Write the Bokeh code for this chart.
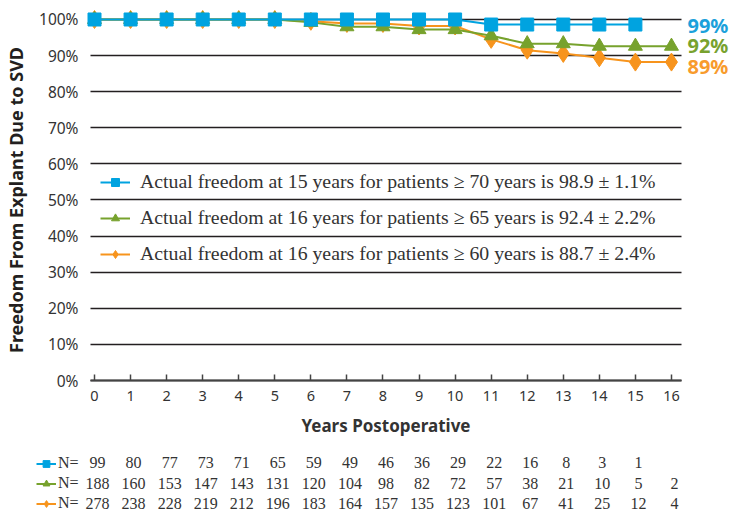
from bokeh.plotting import figure
from bokeh.models import (Range1d, FixedTicker, PrintfTickFormatter, Legend,
                          LegendItem, ColumnDataSource)
from bokeh.embed import file_html
from bokeh.resources import INLINE
from bokeh.core.properties import value

# ---------------- data ----------------
YEARS_70 = [0, 1, 2, 3, 4, 5, 6, 7, 8, 9, 10, 11, 12, 13, 14, 15]
FREEDOM_70 = [100, 100, 100, 100, 100, 100, 100, 100, 100, 100, 100,
              98.6, 98.6, 98.6, 98.6, 98.6]
YEARS_65 = [0, 1, 2, 3, 4, 5, 6, 7, 8, 9, 10, 11, 12, 13, 14, 15, 16]
FREEDOM_65 = [100, 100, 100, 100, 100, 100, 99.2, 98.0, 98.0, 97.2, 97.2,
              95.5, 93.3, 93.3, 92.6, 92.6, 92.6]
YEARS_60 = [0, 1, 2, 3, 4, 5, 6, 7, 8, 9, 10, 11, 12, 13, 14, 15, 16]
FREEDOM_60 = [100, 100, 100, 100, 100, 100, 99.5, 98.9, 98.9, 98.2, 98.2,
              94.5, 91.5, 90.6, 89.4, 88.2, 88.2]

N_70 = [99, 80, 77, 73, 71, 65, 59, 49, 46, 36, 29, 22, 16, 8, 3, 1]
N_65 = [188, 160, 153, 147, 143, 131, 120, 104, 98, 82, 72, 57, 38, 21, 10, 5, 2]
N_60 = [278, 238, 228, 219, 212, 196, 183, 164, 157, 135, 123, 101, 67, 41, 25, 12, 4]

LEGEND_LABELS = [
    "Actual freedom at 15 years for patients \u2265 70 years is 98.9 \u00b1 1.1%",
    "Actual freedom at 16 years for patients \u2265 65 years is 92.4 \u00b1 2.2%",
    "Actual freedom at 16 years for patients \u2265 60 years is 88.7 \u00b1 2.4%",
]
END_LABELS = ["99%", "92%", "89%"]
X_TICKS = [0, 1, 2, 3, 4, 5, 6, 7, 8, 9, 10, 11, 12, 13, 14, 15, 16]
Y_TICKS = [0, 10, 20, 30, 40, 50, 60, 70, 80, 90, 100]

BLUE = "#00a3e0"
GREEN = "#77a22d"
ORANGE = "#f7941d"
END_COLORS = ["#1ba1db", "#78a22f", "#f89b2c"]
TEXT = "#333333"
SANS = "Noto Sans"
SERIF = "Liberation Serif"
NAN = float("nan")

# layout (screen geometry of the plotting area)
X_LO, X_HI = -0.111, 16.28          # extent of the axis line and grid lines
W, H = 731, 513

p = figure(width=W, height=H,
           x_range=Range1d(-2.607, 17.665), y_range=Range1d(-36.84, 105.26),
           output_backend="svg", toolbar_location=None, min_border=0)
p.outline_line_color = None
p.background_fill_color = "white"

p.xgrid.visible = False
p.ygrid.ticker = FixedTicker(ticks=Y_TICKS)
p.ygrid.grid_line_color = "#231f20"
p.ygrid.grid_line_width = 1.3
p.ygrid.cross_bounds = (X_LO, X_HI)

xa = p.xaxis[0]
xa.fixed_location = 0
xa.ticker = FixedTicker(ticks=X_TICKS)
xa.bounds = (X_LO, X_HI)
xa.axis_line_color = "#444444"
xa.axis_line_width = 2
xa.major_tick_in = 6
xa.major_tick_out = 0
xa.minor_tick_line_color = None
xa.major_tick_line_color = "#444444"
xa.major_tick_line_width = 1.5
xa.major_label_text_font = SANS
xa.major_label_text_font_size = "14.5px"
xa.major_label_text_color = TEXT
xa.major_label_standoff = 10
xa.axis_label = "Years Postoperative"
xa.axis_label_text_font = SANS
xa.axis_label_text_font_size = "17px"
xa.axis_label_text_font_style = "bold"
xa.axis_label_text_color = TEXT
xa.axis_label_standoff = 10

ya = p.yaxis[0]
ya.fixed_location = X_LO
ya.ticker = FixedTicker(ticks=Y_TICKS)
ya.bounds = (0, 100)
ya.formatter = PrintfTickFormatter(format="%d%%")
ya.axis_line_color = None
ya.major_tick_line_color = None
ya.minor_tick_line_color = None
ya.major_label_text_font = SANS
ya.major_label_text_font_size = "15.5px"
ya.major_label_text_color = TEXT
ya.major_label_standoff = 6
ya.axis_label = "Freedom From Explant Due to SVD"
ya.axis_label_text_font = SANS
ya.axis_label_text_font_size = "18px"
ya.axis_label_text_font_style = "bold"
ya.axis_label_text_color = "#231f20"
ya.axis_label_standoff = 8

# ---------------- series ----------------
l60 = p.line(YEARS_60, FREEDOM_60, line_color=ORANGE, line_width=2)
s60 = p.scatter(YEARS_60, FREEDOM_60, marker="diamond", size=18,
                fill_color=ORANGE, line_color=ORANGE)
l65 = p.line(YEARS_65, FREEDOM_65, line_color=GREEN, line_width=2)
s65 = p.scatter(YEARS_65, FREEDOM_65, marker="triangle", size=14,
                fill_color=GREEN, line_color=GREEN)
l70 = p.line(YEARS_70, FREEDOM_70, line_color=BLUE, line_width=2)
s70 = p.scatter(YEARS_70, FREEDOM_70, marker="square", size=13,
                fill_color=BLUE, line_color=BLUE)

legend = Legend(items=[
    LegendItem(label=LEGEND_LABELS[0], renderers=[l70, s70]),
    LegendItem(label=LEGEND_LABELS[1], renderers=[l65, s65]),
    LegendItem(label=LEGEND_LABELS[2], renderers=[l60, s60]),
], location=(100, 248))
legend.label_text_font = SERIF
legend.label_text_font_size = "19.8px"
legend.label_text_color = TEXT
legend.glyph_width = 30
legend.glyph_height = 20
legend.label_height = 20
legend.label_standoff = 10
legend.spacing = 13
legend.padding = 0
legend.margin = 0
legend.border_line_color = None
legend.background_fill_alpha = 0
p.add_layout(legend)

# end-of-curve labels
end_src = ColumnDataSource(data=dict(
    x=[YEARS_65[-1], YEARS_65[-1], YEARS_60[-1]],
    y=[FREEDOM_70[-1], FREEDOM_65[-1], FREEDOM_60[-1]],
    t=END_LABELS, c=END_COLORS, dy=[1, -1, 4]))
p.text(x="x", y="y", text="t", source=end_src, text_color="c",
       text_font=value(SANS), text_font_size="20px", text_font_style="bold",
       text_baseline="middle", text_align="left", x_offset=16, y_offset="dy")

# ---------------- numbers-at-risk table (below the x axis) ----------------
ROW_TOP, ROW_PITCH = 82, 20.5       # screen offsets below the 0% axis
tx, ty, tt, toff = [], [], [], []
for row, (yrs, ns) in enumerate([(YEARS_70, N_70), (YEARS_65, N_65), (YEARS_60, N_60)]):
    for yv, nv in zip(yrs, ns):
        tx.append(yv)
        ty.append(0)
        tt.append(str(nv))
        toff.append(ROW_TOP + row * ROW_PITCH)
src = ColumnDataSource(data=dict(x=tx, y=ty, t=tt, dy=toff))
p.text(x="x", y="y", text="t", source=src, text_font=value(SERIF),
       text_font_size="16px", text_align="center", text_baseline="middle",
       x_offset=3, y_offset="dy", text_color=TEXT)

# key glyphs for the table rows (legend-only renderers, nothing plotted)
keys = []
for col, mk, sz in [(BLUE, "square", 10), (GREEN, "triangle", 11), (ORANGE, "diamond", 13)]:
    lr = p.line(x=[NAN], y=[NAN], line_color=col, line_width=2)
    sr = p.scatter(x=[NAN], y=[NAN], marker=mk, size=sz, fill_color=col, line_color=col)
    keys.append(LegendItem(label="N=", renderers=[lr, sr]))
leg2 = Legend(items=keys, location=(36, 1))
leg2.label_text_font = SERIF
leg2.label_text_font_size = "16px"
leg2.label_text_color = TEXT
leg2.glyph_width = 20
leg2.glyph_height = 17
leg2.label_height = 17
leg2.label_standoff = 2
leg2.spacing = 2
leg2.padding = 0
leg2.margin = 0
leg2.border_line_color = None
leg2.background_fill_alpha = 0
p.add_layout(leg2)

open("out.html", "w").write(file_html(p, INLINE))
